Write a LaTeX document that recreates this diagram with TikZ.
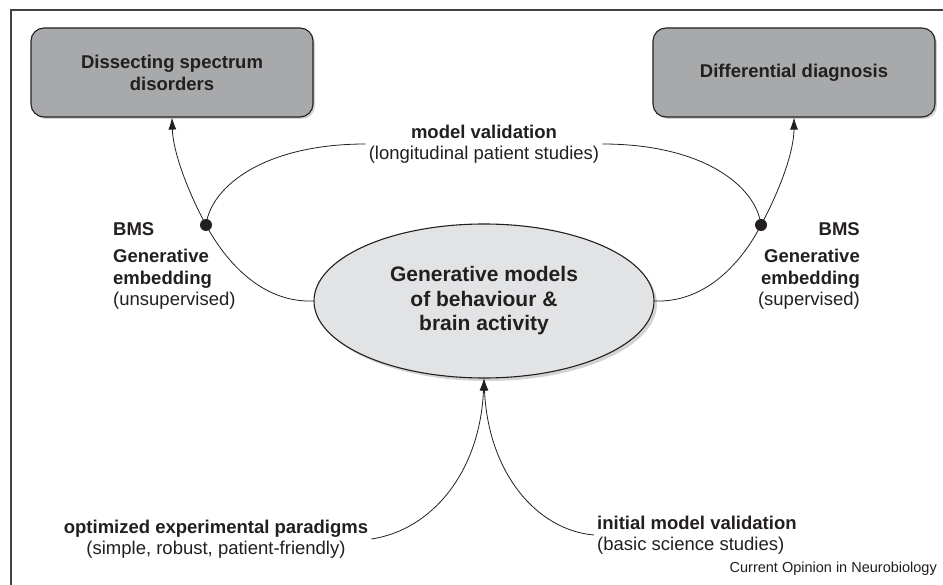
\documentclass[tikz,border=0pt]{standalone}
\usepackage{fontspec}
\setmainfont{Liberation Sans}
\usetikzlibrary{arrows.meta,shapes.geometric,shadows}
\definecolor{boxgray}{HTML}{A8A9AB}
\definecolor{ellgray}{HTML}{E2E3E5}
\definecolor{ink}{HTML}{231F20}
\tikzset{
  outcome/.style={draw=ink, line width=1.1pt, fill=boxgray, rounded corners=13pt,
    minimum width=282pt, minimum height=89pt, align=center, text=ink,
    font=\fontsize{18.5}{22}\selectfont\bfseries,
    drop shadow={shadow xshift=2pt, shadow yshift=-2pt, opacity=0.35}},
  core/.style={draw=ink, line width=1.1pt, fill=ellgray, ellipse, inner sep=0pt,
    minimum width=340pt, minimum height=154pt, align=center, text=ink,
    font=\fontsize{21}{24.5}\selectfont\bfseries,
    drop shadow={shadow xshift=3pt, shadow yshift=-3pt, opacity=0.35}},
  junction/.style={circle, fill=ink, inner sep=0pt, minimum size=12pt},
  lbl/.style={text=ink, font=\fontsize{18.5}{21.5}\selectfont, inner sep=3pt},
  link/.style={draw=ink, line width=0.8pt},
  tip/.style={-{Latex[length=12pt,width=8pt]}},
  frame/.style={draw=ink!85, line width=1.5pt}
}
\begin{document}
\begin{tikzpicture}[x=1pt,y=-1pt]
\useasboundingbox (0,0) rectangle (943,585);
\draw[frame] (11,585) -- (11,10) -- (943,10);

\node[outcome] (box1) at (172,72.5) {Dissecting spectrum\\disorders};
\node[outcome] (box2) at (794,72.5) {Differential diagnosis};
\node[core] (ell) at (484,301) {Generative models\\of behaviour \&\\brain activity};

\node[junction] (dotL) at (206,225) {};
\node[junction] (dotR) at (761,225) {};

\node[lbl, align=center] (mv) at (484,144) {\textbf{model validation}\\(longitudinal patient studies)};

\node[lbl, align=left, anchor=north west] (labL) at (110,219) {\textbf{BMS}\\[6pt]\textbf{Generative}\\\textbf{embedding}\\(unsupervised)};
\node[lbl, align=right, anchor=north east] (labR) at (863,219) {\textbf{BMS}\\[6pt]\textbf{Generative}\\\textbf{embedding}\\(supervised)};

\node[lbl, align=center] (opt) at (216,539) {\textbf{optimized experimental paradigms}\\(simple, robust, patient-friendly)};
\node[lbl, align=left, anchor=west] (init) at (594,535) {\textbf{initial model validation}\\(basic science studies)};

\node[text=ink, font=\fontsize{14.5}{16}\selectfont, anchor=east, inner sep=0pt] (src) at (937,569) {Current Opinion in Neurobiology};

% left side
\draw[link] (ell.west) .. controls (262,303) and (226,262) .. (dotL.center);
\draw[link,tip] (dotL.center) .. controls (188,192) and (173,152) .. (box1.south);
\draw[link] (dotL.center) .. controls (211,186) and (265,144) .. (mv.west);
% right side
\draw[link] (ell.east) .. controls (706,303) and (742,262) .. (dotR.center);
\draw[link,tip] (dotR.center) .. controls (779,192) and (794,152) .. (box2.south);
\draw[link] (dotR.center) .. controls (756,186) and (703,144) .. (mv.east);
% bottom
\draw[link,tip] (opt.east) .. controls (432,530) and (480,472) .. (ell.south);
\draw[link,tip] (init.west) .. controls (536,530) and (488,472) .. (ell.south);
\end{tikzpicture}
\end{document}
